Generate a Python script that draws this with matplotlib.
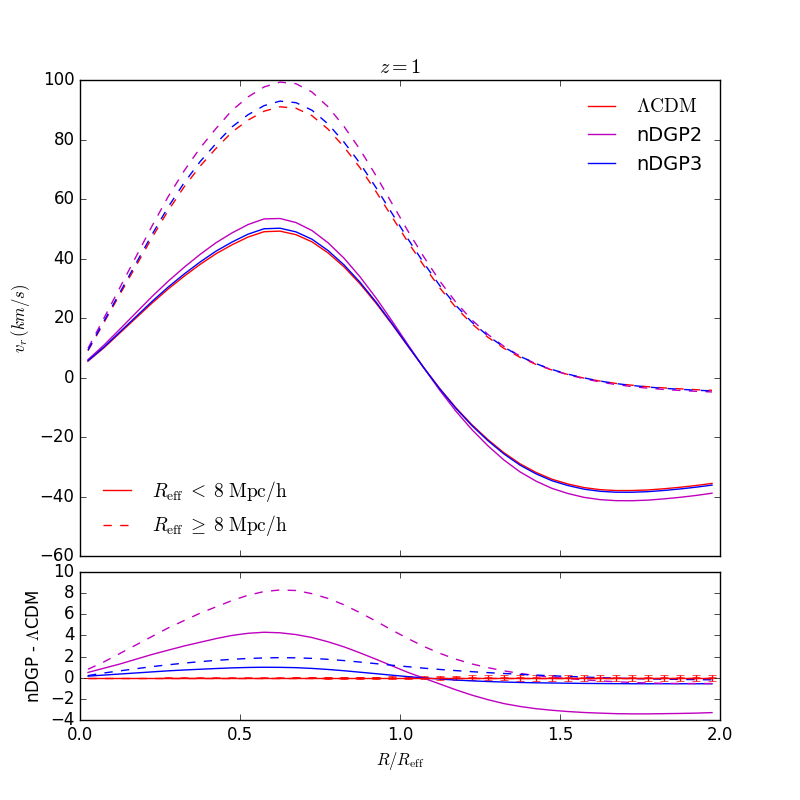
import numpy as np
import matplotlib
matplotlib.use("Agg")
import matplotlib.pyplot as plt
from matplotlib.lines import Line2D

plt.style.use("classic")

# bin centres in R/R_eff
r = [0.025, 0.075, 0.125, 0.175, 0.225, 0.275, 0.325, 0.375, 0.425, 0.475,
     0.525, 0.575, 0.625, 0.675, 0.725, 0.775, 0.825, 0.875, 0.925, 0.975,
     1.025, 1.075, 1.125, 1.175, 1.225, 1.275, 1.325, 1.375, 1.425, 1.475,
     1.525, 1.575, 1.625, 1.675, 1.725, 1.775, 1.825, 1.875, 1.925, 1.975]

# LCDM velocity profiles (km/s), small and large voids
lcdm_small = [5.5, 10.0, 15.0, 20.0, 25.0, 29.7, 34.0, 38.0, 41.6, 44.6,
              47.2, 49.0, 49.2, 48.0, 45.6, 41.9, 37.2, 31.5, 25.0, 17.9,
              10.5, 3.2, -3.8, -10.2, -15.9, -20.9, -25.3, -29.0, -31.9, -34.2,
              -35.8, -37.0, -37.7, -38.0, -38.0, -37.8, -37.4, -36.9, -36.3, -35.6]
lcdm_large = [9.0, 18.5, 28.0, 37.5, 47.0, 56.0, 64.0, 71.0, 77.0, 82.5,
              86.5, 89.5, 91.0, 90.5, 88.0, 83.5, 77.5, 70.5, 62.5, 54.0,
              45.5, 37.5, 30.0, 23.5, 18.0, 13.5, 9.8, 6.8, 4.4, 2.5,
              1.0, -0.2, -1.2, -2.0, -2.6, -3.1, -3.5, -3.8, -4.1, -4.3]

# nDGP - LCDM differences
d2_small = [0.5, 0.9, 1.3, 1.75, 2.2, 2.6, 3.0, 3.35, 3.7, 4.0,
            4.2, 4.3, 4.25, 4.08, 3.8, 3.4, 2.92, 2.35, 1.75, 1.12,
            0.5, -0.05, -0.6, -1.15, -1.65, -2.08, -2.45, -2.72, -2.93, -3.08,
            -3.2, -3.29, -3.35, -3.4, -3.42, -3.42, -3.4, -3.38, -3.35, -3.3]
d3_small = [0.15, 0.25, 0.35, 0.45, 0.55, 0.65, 0.73, 0.8, 0.87, 0.93,
            0.97, 0.99, 0.98, 0.95, 0.88, 0.78, 0.66, 0.52, 0.38, 0.24,
            0.1, -0.02, -0.13, -0.22, -0.3, -0.36, -0.41, -0.45, -0.48, -0.5,
            -0.52, -0.54, -0.55, -0.56, -0.57, -0.57, -0.57, -0.57, -0.57, -0.57]
d2_large = [0.8, 1.5, 2.3, 3.1, 3.9, 4.7, 5.4, 6.1, 6.7, 7.3,
            7.8, 8.15, 8.3, 8.25, 7.95, 7.5, 6.9, 6.15, 5.35, 4.5,
            3.7, 2.95, 2.3, 1.75, 1.3, 0.95, 0.65, 0.4, 0.2, 0.05,
            -0.08, -0.2, -0.3, -0.38, -0.45, -0.5, -0.53, -0.55, -0.55, -0.55]
d3_large = [0.2, 0.45, 0.65, 0.85, 1.05, 1.22, 1.38, 1.52, 1.64, 1.74,
            1.82, 1.87, 1.9, 1.88, 1.83, 1.74, 1.62, 1.48, 1.33, 1.18,
            1.04, 0.9, 0.78, 0.67, 0.57, 0.48, 0.4, 0.32, 0.25, 0.18,
            0.12, 0.06, 0.01, -0.04, -0.08, -0.11, -0.14, -0.16, -0.18, -0.2]

# LCDM scatter shown as error bars in the lower panel
err_small = [0.01, 0.01, 0.01, 0.01, 0.01, 0.01, 0.01, 0.02, 0.02, 0.02,
             0.02, 0.02, 0.02, 0.03, 0.03, 0.03, 0.03, 0.04, 0.04, 0.04,
             0.04, 0.05, 0.05, 0.05, 0.05, 0.05, 0.05, 0.05, 0.05, 0.05,
             0.05, 0.05, 0.05, 0.05, 0.05, 0.05, 0.05, 0.05, 0.05, 0.05]
err_large = [0.02, 0.02, 0.02, 0.02, 0.02, 0.03, 0.03, 0.03, 0.03, 0.04,
             0.04, 0.04, 0.05, 0.06, 0.07, 0.08, 0.09, 0.1, 0.11, 0.12,
             0.14, 0.16, 0.18, 0.2, 0.22, 0.24, 0.26, 0.27, 0.28, 0.29,
             0.3, 0.3, 0.3, 0.3, 0.3, 0.3, 0.3, 0.3, 0.3, 0.3]

r = np.array(r)
lcdm_small = np.array(lcdm_small)
lcdm_large = np.array(lcdm_large)

fig = plt.figure(figsize=(8, 8), dpi=100, facecolor="white")
ax1 = fig.add_axes([0.1, 0.305, 0.8, 0.595])
ax2 = fig.add_axes([0.1, 0.1, 0.8, 0.185])

# upper panel
ax1.plot(r, lcdm_small, "r-")
ax1.plot(r, lcdm_small + np.array(d2_small), "m-")
ax1.plot(r, lcdm_small + np.array(d3_small), "b-")
ax1.plot(r, lcdm_large, "r--")
ax1.plot(r, lcdm_large + np.array(d2_large), "m--")
ax1.plot(r, lcdm_large + np.array(d3_large), "b--")

ax1.set_xlim(0, 2)
ax1.set_ylim(-60, 100)
ax1.set_xticklabels([])
ax1.set_ylabel(r"$v_r\,(km/s)$")
ax1.set_title(r"$z=1$")

model_handles = [Line2D([], [], color="r"), Line2D([], [], color="m"),
                 Line2D([], [], color="b")]
leg1 = ax1.legend(model_handles, [r"$\Lambda{\rm CDM}$", "nDGP2", "nDGP3"],
                  loc="upper right", frameon=False, fontsize=14)
ax1.add_artist(leg1)

size_handles = [Line2D([], [], color="r", ls="-"),
                Line2D([], [], color="r", ls="--")]
ax1.legend(size_handles,
           [r"$R_{\rm eff}\;<\;8\;{\rm Mpc/h}$",
            r"$R_{\rm eff}\;\geq\;8\;{\rm Mpc/h}$"],
           loc="lower left", frameon=False, fontsize=14)

# lower panel
zero = np.zeros(len(r))
ax2.errorbar(r, zero, yerr=err_small, fmt="r-", ecolor="r", capsize=3)
ax2.errorbar(r, zero, yerr=err_large, fmt="r--", ecolor="r", capsize=3)
ax2.plot(r, d2_small, "m-")
ax2.plot(r, d3_small, "b-")
ax2.plot(r, d2_large, "m--")
ax2.plot(r, d3_large, "b--")

ax2.set_xlim(0, 2)
ax2.set_ylim(-4, 10)
ax2.set_yticks(np.arange(-4, 11, 2))
ax2.set_xlabel(r"$R/R_{\rm eff}$")
ax2.set_ylabel(r"nDGP - $\Lambda$CDM")

fig.savefig("out.png", dpi=100)
